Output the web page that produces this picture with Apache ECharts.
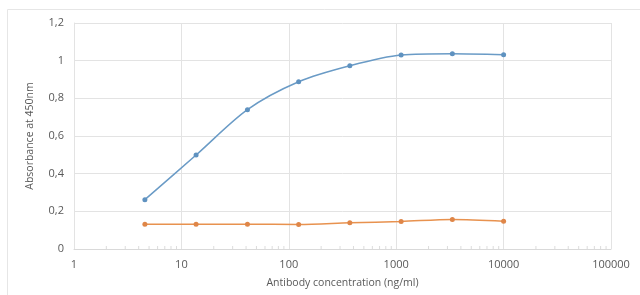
<!DOCTYPE html>
<html>
<head>
<meta charset="utf-8">
<script src="https://cdn.jsdelivr.net/npm/echarts@6/dist/echarts.min.js"></script>
<style>
  html, body { margin: 0; padding: 0; background: #fff; }
  #chart { width: 640px; height: 295px; }
</style>
</head>
<body>
<div id="chart"></div>
<script>
// antibody concentrations (ng/ml), 3-fold dilution series
const concentrations = [4.57, 13.7, 41.2, 123.5, 370, 1111, 3333, 10000];
const antibodySignal = [0.262, 0.499, 0.740, 0.888, 0.973, 1.030, 1.037, 1.032];
const controlSignal = [0.132, 0.132, 0.132, 0.130, 0.139, 0.146, 0.157, 0.148];
const minorTickSteps = [2, 3, 4, 5, 6, 7, 8, 9];
const decades = [1, 10, 100, 1000, 10000];

const minorTicks = [];
decades.forEach(d => minorTickSteps.forEach(s => minorTicks.push([d * s, 0])));

const chart = echarts.init(document.getElementById('chart'));

const labelFont = { color: '#595959', fontSize: 11, fontFamily: 'Open Sans' };

chart.setOption({
  animation: false,
  backgroundColor: '#fff',
  graphic: [{
    type: 'rect',
    shape: { x: 7.5, y: 9.5, width: 700, height: 400 },
    style: { fill: 'none', stroke: '#e6e6e6', lineWidth: 1 },
    silent: true
  }],
  grid: { left: 74, right: 29, top: 23, bottom: 46 },
  xAxis: {
    type: 'log',
    logBase: 10,
    min: 1,
    max: 100000,
    name: 'Antibody concentration (ng/ml)',
    nameLocation: 'middle',
    nameGap: 29,
    nameTextStyle: Object.assign({}, labelFont, { fontSize: 10.5 }),
    axisLine: { show: true, lineStyle: { color: '#d9d9d9' } },
    axisTick: { show: false },
    axisLabel: Object.assign({ margin: 10, formatter: v => String(Math.round(v)) }, labelFont),
    splitLine: { show: true, lineStyle: { color: '#e3e3e3' } }
  },
  yAxis: {
    type: 'value',
    min: 0,
    max: 1.2,
    interval: 0.2,
    name: 'Absorbance at 450nm',
    nameLocation: 'middle',
    nameGap: 38,
    nameTextStyle: Object.assign({}, labelFont, { fontSize: 10.5 }),
    axisLine: { show: true, lineStyle: { color: '#e3e3e3' } },
    axisTick: { show: false },
    axisLabel: Object.assign({
      margin: 10,
      formatter: v => String(Math.round(v * 10) / 10).replace('.', ',')
    }, labelFont),
    splitLine: { show: true, lineStyle: { color: '#e3e3e3' } }
  },
  series: [
    {
      name: 'minor ticks',
      type: 'scatter',
      silent: true,
      symbol: 'rect',
      symbolSize: [1, 3],
      symbolOffset: [0, -1.5],
      itemStyle: { color: '#d3d3d3' },
      data: minorTicks,
      z: 1
    },
    {
      name: 'Antibody',
      type: 'line',
      smooth: 0.3,
      symbol: 'circle',
      symbolSize: 5,
      lineStyle: { color: '#6a9bc6', width: 1.5 },
      itemStyle: { color: '#5f92c0' },
      data: concentrations.map((c, i) => [c, antibodySignal[i]]),
      z: 3
    },
    {
      name: 'Control',
      type: 'line',
      smooth: 0.3,
      symbol: 'circle',
      symbolSize: 5,
      lineStyle: { color: '#e8924f', width: 1.5 },
      itemStyle: { color: '#df8648' },
      data: concentrations.map((c, i) => [c, controlSignal[i]]),
      z: 3
    }
  ]
});
</script>
</body>
</html>
